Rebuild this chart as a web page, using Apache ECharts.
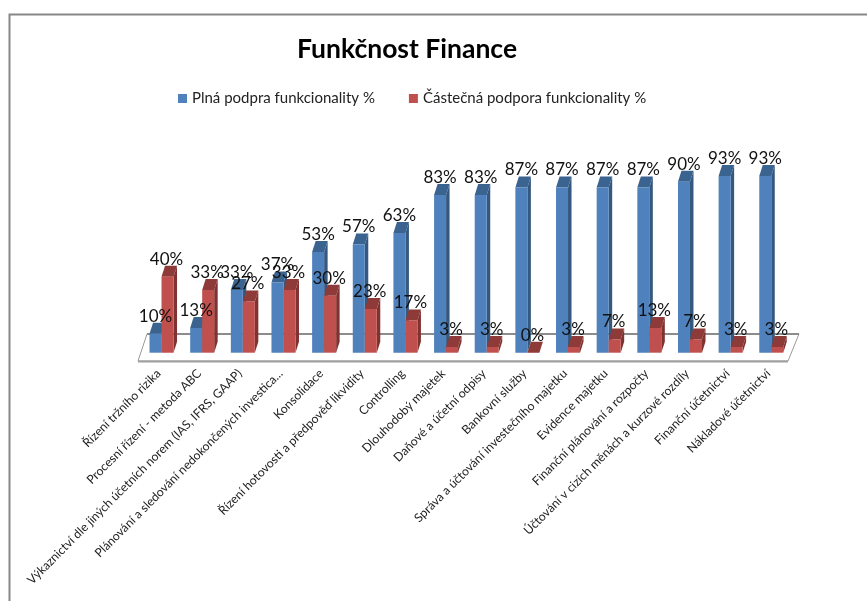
<!DOCTYPE html>
<html><head><meta charset="utf-8">
<style>html,body{margin:0;padding:0;background:#fff}#c{width:867px;height:601px}</style>
<script src="https://cdn.jsdelivr.net/npm/echarts@6/dist/echarts.min.js"></script>
</head><body><div id="c"></div>
<script>
const titleText = 'Funkčnost Finance';
const seriesNames = ['Plná podpra funkcionality %', 'Částečná podpora funkcionality %'];
const categories = [
  'Řízení tržního rizika',
  'Procesní řízení - metoda ABC',
  'Výkaznictví dle jiných účetních norem (IAS, IFRS, GAAP)',
  'Plánování a sledování nedokončených investica...',
  'Konsolidace',
  'Řízení hotovosti a předpověď likvidity',
  'Controlling',
  'Dlouhodobý majetek',
  'Daňové a účetní odpisy',
  'Bankovní služby',
  'Správa a účtování investečního majetku',
  'Evidence majetku',
  'Finanční plánování a rozpočty',
  'Účtování v cizích měnách a kurzové rozdíly',
  'Finanční účetnictví',
  'Nákladové účetnictví'
];
const fullSupport = [10, 13, 33, 37, 53, 57, 63, 83, 83, 87, 87, 87, 87, 90, 93, 93];
const partSupport = [40, 33, 27, 33, 30, 23, 17, 3, 3, 0, 3, 7, 13, 7, 3, 3];

const FONT = 'Lato, "Open Sans", sans-serif';
const BAR = 12, DX = 3.5, DY = 11;

function bar3d(side, front, top, dark) {
  return function (params, api) {
    const i = api.value(0), v = api.value(1);
    const p = api.coord([i, v]), b = api.coord([i, 0]);
    const x0 = side === 0 ? p[0] - BAR : p[0], x1 = x0 + BAR;
    const y = p[1], by = b[1];
    const children = [
      { type: 'polygon', z2: 1, shape: { points: [[x1, y], [x1 + DX, y - DY], [x1 + DX, by - DY], [x1, by]] }, style: { fill: dark } },
      { type: 'polygon', z2: 2, shape: { points: [[x0, y], [x0 + DX, y - DY], [x1 + DX, y - DY], [x1, y]] }, style: { fill: top } },
      { type: 'rect', z2: 3, shape: { x: x0, y: y, width: BAR, height: by - y }, style: { fill: front } },
      { type: 'text', z2: 100, x: x0 + BAR / 2 - side, y: y - DY - 6.5,
        style: { text: v + '%', fill: '#111', font: '400 17px ' + FONT, align: 'center', verticalAlign: 'middle' } }
    ];
    return { type: 'group', children };
  };
}

const chart = echarts.init(document.getElementById('c'), null, { renderer: 'canvas' });
chart.setOption({
  animation: false,
  backgroundColor: '#fff',
  title: { text: titleText, left: 407, top: 36, textAlign: 'center', padding: 0,
    textStyle: { fontFamily: FONT, fontWeight: 'bold', fontSize: 26.5, color: '#000' } },
  legend: { left: 178, top: 91, padding: 0, itemWidth: 9, itemHeight: 9, itemGap: 34, icon: 'rect',
    data: seriesNames, textStyle: { fontFamily: FONT, fontSize: 15, color: '#222' } },
  grid: { left: 141.2, width: 650.4, top: 162.7, height: 190 },
  xAxis: { type: 'category', data: categories,
    axisLine: { show: false }, axisTick: { show: false },
    axisLabel: { rotate: 45, interval: 0, margin: 16, padding: [0, 4, 0, 0], fontFamily: FONT, fontSize: 12.2, color: '#222' } },
  yAxis: { type: 'value', min: 0, max: 100, interval: 20, show: false, splitLine: { show: false } },
  graphic: [
    { type: 'polyline', z: -1, shape: { points: [[9.5, 601], [9.5, 14.5], [867, 14.5]] }, style: { fill: 'none', stroke: '#888', lineWidth: 2 } },
    { type: 'polygon', z: -1, shape: { points: [[138, 361], [147, 334], [799, 334], [788, 361]] }, style: { fill: '#fff', stroke: '#9a9a9a', lineWidth: 1 } },
    { type: 'line', z: -1, shape: { x1: 147, y1: 334, x2: 799, y2: 334 }, style: { stroke: '#8c8c8c', lineWidth: 2 } },
    { type: 'line', z: -1, shape: { x1: 138, y1: 361.5, x2: 788, y2: 361.5 }, style: { stroke: '#a0a0a0', lineWidth: 2 } }
  ],
  series: [
    { name: seriesNames[0], type: 'custom', itemStyle: { color: '#4F81BD' },
      data: fullSupport.map((v, i) => [i, v]), encode: { x: 0, y: 1 },
      renderItem: bar3d(0, '#4F81BD', '#3A6390', '#34587F') },
    { name: seriesNames[1], type: 'custom', itemStyle: { color: '#C0504D' },
      data: partSupport.map((v, i) => [i, v]), encode: { x: 0, y: 1 },
      renderItem: bar3d(1, '#C0504D', '#8E3A38', '#7F3230') }
  ]
});
</script></body></html>
